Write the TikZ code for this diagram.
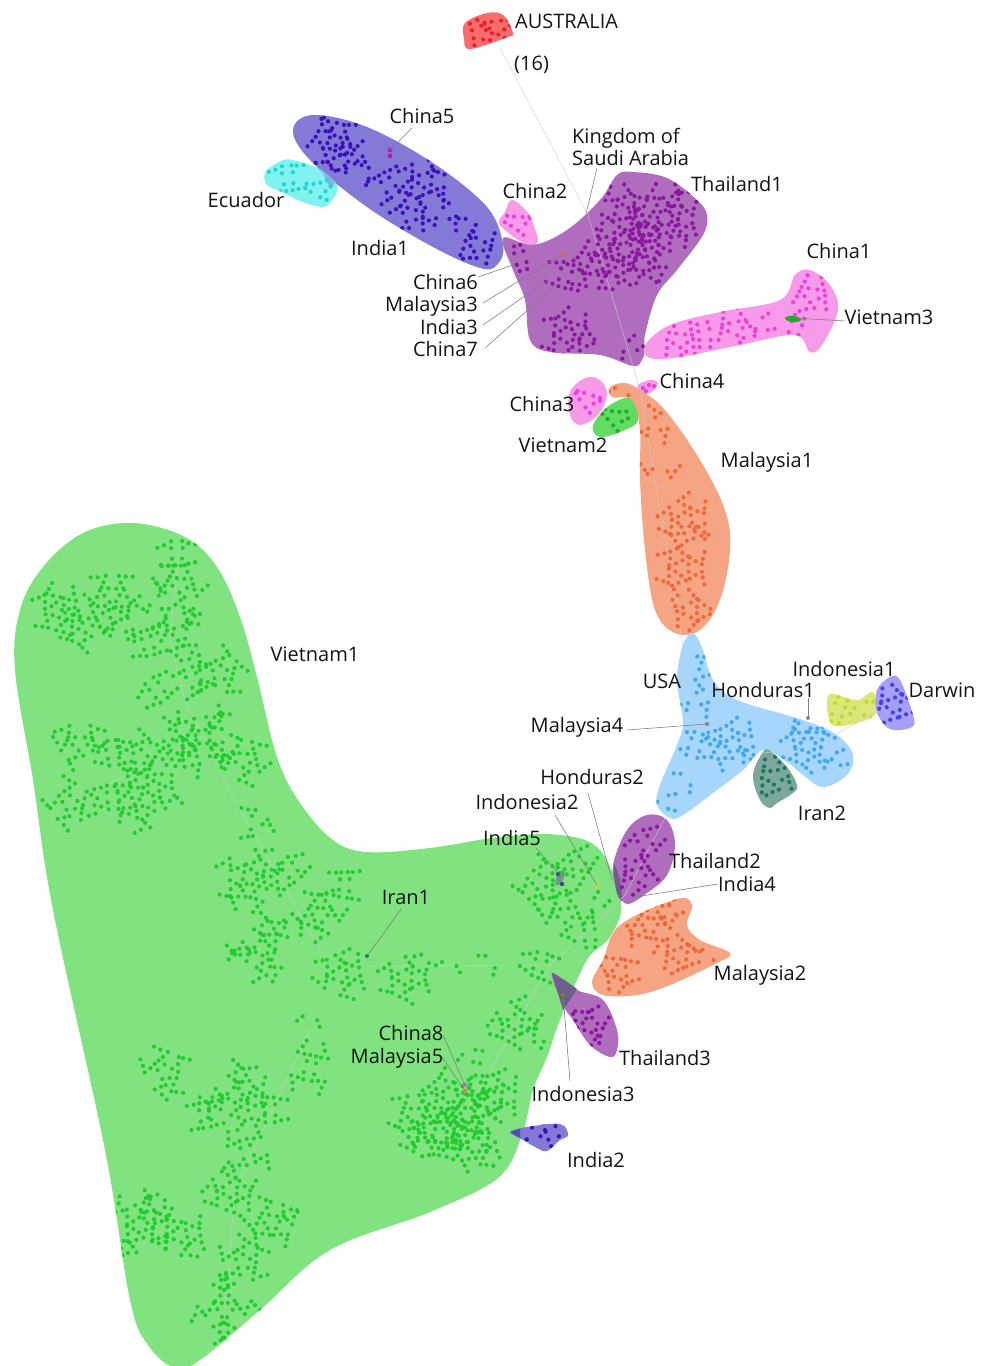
\documentclass[tikz,border=0pt]{standalone}
\usepackage{fontspec}
\setmainfont{Open Sans}
\definecolor{bgGreen}{HTML}{80E380}\definecolor{dGreen}{HTML}{22CC30}
\definecolor{bgRed}{HTML}{F96C6C}\definecolor{dRed}{HTML}{E8202C}
\definecolor{bgInd}{HTML}{8379D6}\definecolor{dInd}{HTML}{3A12B8}
\definecolor{bgCy}{HTML}{80F3F0}\definecolor{dCy}{HTML}{22D5CF}
\definecolor{bgMag}{HTML}{F79AEA}\definecolor{dMag}{HTML}{EE3FD8}
\definecolor{bgPur}{HTML}{B06DBD}\definecolor{dPur}{HTML}{8A189E}
\definecolor{bgOr}{HTML}{F5A583}\definecolor{dOr}{HTML}{F0683A}
\definecolor{bgBl}{HTML}{A6D6FB}\definecolor{dBl}{HTML}{3FA8EE}
\definecolor{bgTe}{HTML}{7DA79B}\definecolor{dTe}{HTML}{157A62}
\definecolor{bgYe}{HTML}{DCE77A}\definecolor{dYe}{HTML}{C5D82E}
\definecolor{bgDa}{HTML}{A3A0F5}\definecolor{dDa}{HTML}{4A3FE0}
\definecolor{ovl}{HTML}{6C5F8C}
\definecolor{bgVtw}{HTML}{62DB62}
\tikzset{
  blob/.style={smooth cycle,tension=.6},
  leader/.style={draw=black!50,line width=.6pt},
  faint/.style={draw=black!20,line width=.4pt},
  lab/.style={font=\fontsize{20}{22}\selectfont,text=black!92,inner sep=0pt,text height=18pt,text depth=4pt},
}
\newcommand\doshape[1]{\fill[\tmpcol] plot[blob] coordinates {#1};}
\newcommand\shape[2]{\def\tmpcol{#1}\expandafter\doshape\expandafter{#2}}
\newcommand\doclip[1]{\clip plot[blob] coordinates {#1};}
\newcommand\clipto[1]{\expandafter\doclip\expandafter{#1}}
% hull outlines
\def\hGreen{(133,523)(185,537)(217,567)(240,617)(257,677)(277,757)(300,803)(333,840)(367,852)(430,848)(500,837)(560,835)(600,850)(621,903)(610,937)(587,960)(560,1020)(547,1057)(533,1090)(522,1135)(498,1178)(430,1212)(330,1250)(260,1310)(200,1360)(175,1368)(148,1345)(130,1300)(105,1150)(53,910)(33,780)(15,670)(20,610)(43,567)(83,533)}
\def\hAus{(465,23)(487,13)(503,15)(513,33)(508,37)(470,49)(464,38)}
\def\hEcu{(265,173)(277,163)(293,160)(333,175)(337,190)(332,200)(323,207)(300,201)(282,192)(267,185)}
\def\hIndO{(293,130)(313,115)(367,127)(433,163)(487,207)(503,245)(497,265)(480,268)(433,247)(367,207)(310,160)}
\def\hChT{(512,200)(528,213)(537,235)(537,243)(528,246)(500,225)(505,212)}
\def\hThO{(617,175)(633,172)(667,178)(697,200)(707,215)(703,235)(677,270)(657,295)(645,335)(645,350)(642,360)(633,366)(600,355)(550,352)(530,340)(525,300)(513,270)(503,238)(533,245)(567,230)(600,200)}
\def\hChO{(645,345)(670,325)(720,312)(780,300)(795,275)(810,270)(830,285)(838,310)(822,345)(810,352)(795,335)(740,345)(680,357)(650,358)}
\def\hChH{(570,392)(585,378)(600,380)(607,395)(598,415)(580,425)(570,415)}
\def\hViS{(593,425)(610,405)(632,398)(638,420)(625,430)(600,437)}
\def\hChV{(638,385)(650,380)(658,383)(652,392)(640,394)}
\def\hMaO{(610,387)(625,383)(640,390)(665,410)(700,460)(725,510)(730,550)(720,600)(700,630)(675,633)(655,610)(645,550)(640,480)(640,430)(632,400)(612,397)}
\def\hUSA{(693,633)(703,650)(713,680)(737,700)(803,720)(837,735)(853,755)(847,775)(823,787)(803,775)(787,762)(763,750)(743,770)(717,790)(683,815)(670,818)(657,805)(660,785)(677,745)(683,722)(677,680)(683,645)}
\def\hIrT{(763,752)(770,751)(787,767)(797,785)(793,793)(777,803)(770,808)(760,800)(753,775)}
\def\hIdO{(827,700)(833,694)(857,700)(873,692)(875,715)(843,726)(830,722)}
\def\hDar{(877,690)(890,677)(900,680)(913,715)(912,727)(890,729)(877,712)}
\def\hThT{(647,815)(667,820)(675,845)(667,875)(647,893)(627,904)(617,890)(613,865)(627,830)}
\def\hMaT{(677,899)(692,905)(687,925)(700,940)(730,953)(717,963)(670,985)(637,995)(603,995)(592,982)(603,960)(620,925)}
\def\hThH{(552,973)(577,990)(603,1000)(617,1030)(617,1050)(610,1057)(590,1045)(573,1020)(563,1005)}
\def\hInS{(510,1132)(527,1127)(560,1124)(568,1135)(560,1140)(547,1151)(537,1148)(523,1140)}
% radial dendrite of dots: x, y, radius, branches
\newcommand\dd[4]{%
  \pgfmathsetmacro\oa{rnd*60}%
  \pgfmathtruncatemacro\kk{max(1,round(#3/7.5))}%
  \foreach \b in {1,...,#4}{%
    \pgfmathsetmacro\aa{\oa+\b*360/#4+rnd*14}%
    \pgfmathsetmacro\bd{rnd*16-8}%
    \foreach \k in {1,...,\kk}{%
      \pgfmathsetmacro\ang{\aa+\k*\bd}%
      \pgfmathsetmacro\sg{mod(\k+\b,2)*2-1}%
      \pgfmathsetmacro\pos{\k*7.6}%
      \fill ({#1+\pos*cos(\ang)},{#2+\pos*sin(\ang)}) circle (2.1pt)
            ({#1+\pos*cos(\ang)+7*cos(\ang+\sg*52)},{#2+\pos*sin(\ang)+7*sin(\ang+\sg*52)}) circle (2.1pt);
    }%
  }%
}
\begin{document}
\begin{tikzpicture}[x=1pt,y=-1pt]
\useasboundingbox (0,0) rectangle (986,1366);
\pgfmathsetseed{4242}
% ---- hulls
\shape{bgGreen}{\hGreen}
\shape{bgRed}{\hAus}
\shape{bgCy}{\hEcu}
\shape{bgInd}{\hIndO}
\shape{bgMag}{\hChT}
\shape{bgPur}{\hThO}
\shape{bgMag}{\hChO}
\shape{bgMag}{\hChH}
\shape{bgVtw}{\hViS}
\shape{bgMag}{\hChV}
\shape{bgOr}{\hMaO}
\shape{bgBl}{\hUSA}
\shape{bgTe}{\hIrT}
\shape{bgYe}{\hIdO}
\shape{bgDa}{\hDar}
\shape{bgPur}{\hThT}
\shape{bgOr}{\hMaT}
\shape{bgPur}{\hThH}
\shape{bgInd}{\hInS}
% ---- overlaps
\fill[ovl] (552,973) -- (566,981) -- (577,989) -- (570,1000) -- (563,1010) -- cycle;
\fill[ovl] plot[blob] coordinates {(614,865)(620,880)(622,901)(616,890)};
\fill[dInd!70!bgGreen] (510,1132) -- (520,1129) -- (520,1138) -- cycle;
\fill[ovl!60!bgGreen,rotate around={-25:(560,878)}] (560,878) ellipse (3.5 and 8);
\fill[bgCy!50!bgInd] (320,168) -- (336,182) -- (330,188) -- cycle;
% ---- faint tree edges
\coordinate (sp0) at (500,48); \coordinate (sp1) at (588,215);
\coordinate (sp2) at (640,390); \coordinate (sp3) at (682,640);
\coordinate (sp4) at (695,760); \coordinate (sp5) at (625,895);
\coordinate (sp6) at (550,965); \coordinate (sp7) at (368,966);
\draw[faint] (sp0) -- (sp1) -- (sp2) -- (sp3) -- (sp4) -- (sp5) -- (sp6) -- (sp7);
\draw[faint] (sp4) -- (810,748) -- (890,705);
\draw[faint] (sp6) -- (468,1110);
\draw[faint] (320,950) -- (240,810) -- (185,700) -- (170,640) -- (178,555);
\draw[faint] (187,745) -- (70,803);
\draw[faint] (310,1030) -- (235,1190) -- (225,1310);
% ---- dots
\begin{scope}[fill=dGreen]
\clipto{\hGreen}
\dd{58}{610}{22}{6}\dd{85}{625}{20}{5}\dd{112}{595}{24}{6}\dd{177}{553}{18}{4}\dd{180}{585}{22}{5}\dd{157}{603}{14}{3}\dd{180}{633}{22}{6}\dd{148}{643}{15}{4}\dd{120}{627}{13}{3}
\dd{157}{690}{15}{4}\dd{193}{680}{16}{4}\dd{220}{673}{20}{5}
\dd{203}{737}{30}{8}\dd{170}{737}{14}{3}\dd{243}{760}{25}{5}\dd{187}{760}{13}{3}
\dd{80}{743}{25}{5}\dd{113}{753}{16}{4}\dd{140}{757}{20}{5}
\dd{70}{803}{26}{5}\dd{113}{797}{18}{4}\dd{147}{800}{28}{7}
\dd{255}{823}{18}{3}\dd{250}{877}{30}{7}\dd{290}{870}{14}{4}
\dd{320}{915}{24}{6}\dd{345}{885}{18}{4}\dd{262}{948}{30}{7}\dd{340}{975}{24}{6}\dd{405}{977}{22}{6}\dd{310}{1018}{6}{2}\dd{310}{1068}{22}{4}
\dd{165}{1072}{26}{5}\dd{235}{1095}{30}{7}\dd{205}{1115}{18}{4}\dd{270}{1110}{18}{4}\dd{247}{1152}{22}{4}
\dd{140}{1225}{30}{7}\dd{180}{1235}{24}{6}\dd{230}{1190}{24}{6}\dd{272}{1222}{25}{6}\dd{243}{1262}{24}{5}\dd{225}{1310}{32}{6}
\dd{415}{1115}{22}{6}\dd{450}{1095}{24}{7}\dd{440}{1135}{24}{7}\dd{468}{1115}{28}{8}\dd{475}{1145}{24}{7}\dd{495}{1095}{24}{6}\dd{420}{1140}{14}{3}
\dd{470}{1055}{10}{3}\dd{515}{1022}{24}{6}\dd{540}{1035}{10}{2}\dd{540}{965}{12}{4}\dd{490}{962}{6}{2}\dd{449}{965}{4}{2}
\dd{540}{882}{20}{5}\dd{578}{864}{16}{5}\dd{565}{915}{20}{5}\dd{597}{905}{10}{3}\dd{590}{935}{10}{4}
\end{scope}
\begin{scope}[fill=dRed]\clipto{\hAus}\dd{479}{33}{8}{5}\dd{497}{27}{8}{5}\end{scope}
\begin{scope}[fill=dCy]\clipto{\hEcu}\dd{288}{178}{14}{4}\dd{318}{190}{9}{5}\end{scope}
\begin{scope}[fill=dInd]\clipto{\hIndO}
\dd{335}{143}{26}{8}\dd{350}{160}{14}{3}\dd{425}{180}{22}{6}\dd{388}{185}{16}{4}\dd{365}{172}{10}{2}\dd{410}{215}{18}{5}\dd{443}{215}{12}{3}\dd{470}{225}{8}{2}\dd{478}{245}{12}{5}
\end{scope}
\begin{scope}[fill=dMag]\clipto{\hChT}\dd{518}{223}{8}{5}\end{scope}
\begin{scope}[fill=dMag]\clipto{\hChO}\dd{680}{340}{13}{5}\dd{705}{335}{9}{4}\dd{735}{328}{14}{5}\dd{762}{325}{8}{3}\dd{795}{328}{10}{4}\dd{812}{295}{14}{5}\end{scope}
\begin{scope}[fill=dMag]\clipto{\hChH}\dd{587}{400}{8}{5}\end{scope}
\begin{scope}[fill=dMag]\fill (643,388) circle (2.1pt) (649,385) circle (2.1pt) (654,386) circle (2.1pt) (646,391) circle (2.1pt);\end{scope}
\begin{scope}[fill=dPur]\clipto{\hThO}
\dd{665}{218}{28}{9}\dd{622}{212}{26}{7}\dd{625}{250}{28}{8}\dd{650}{255}{20}{6}\dd{595}{268}{22}{6}\dd{520}{258}{10}{4}\dd{565}{275}{14}{4}\dd{567}{335}{20}{7}\dd{630}{348}{9}{3}
\end{scope}
\begin{scope}[fill=dPur]\clipto{\hThT}\dd{645}{843}{16}{4}\dd{638}{875}{14}{5}\end{scope}
\begin{scope}[fill=dPur]\clipto{\hThH}\dd{590}{1025}{18}{7}\end{scope}
\begin{scope}[fill=dGreen!85!black]\clipto{\hViS}\dd{615}{418}{7}{5}\end{scope}
\begin{scope}[fill=dOr]\clipto{\hMaO}
\dd{622}{391}{4}{2}\dd{655}{425}{14}{3}\dd{660}{470}{12}{2}\dd{685}{520}{26}{7}\dd{682}{568}{22}{6}\dd{690}{610}{15}{6}
\end{scope}
\begin{scope}[fill=dOr]\clipto{\hMaT}
\dd{650}{925}{20}{6}\dd{670}{912}{8}{3}\dd{620}{972}{16}{6}\dd{680}{955}{16}{6}\dd{708}{955}{7}{2}
\end{scope}
\begin{scope}[fill=dBl]\clipto{\hUSA}
\dd{693}{650}{13}{1}\dd{697}{672}{8}{1}\dd{695}{700}{12}{3}\dd{695}{745}{18}{4}\dd{733}{745}{26}{7}\dd{808}{745}{24}{7}\dd{806}{722}{10}{3}\dd{835}{760}{10}{3}\dd{665}{802}{9}{3}\dd{685}{780}{8}{2}
\end{scope}
\begin{scope}[fill=dTe]\clipto{\hIrT}\dd{775}{777}{14}{5}\end{scope}
\begin{scope}[fill=dYe]\clipto{\hIdO}\dd{838}{710}{7}{4}\dd{862}{708}{6}{3}\end{scope}
\begin{scope}[fill=dDa]\clipto{\hDar}\dd{894}{705}{14}{6}\end{scope}
\begin{scope}[fill=dInd]\clipto{\hInS}\dd{533}{1135}{6}{3}\dd{552}{1133}{7}{4}\end{scope}
% ---- marked points
\coordinate (pChinaF) at (390,150);\coordinate (pKSA) at (586,214);
\coordinate (pChinaS) at (513,265);\coordinate (pMalT) at (563,254);
\coordinate (pIndT) at (548,280);\coordinate (pChinaN) at (556,285);
\coordinate (pVietT) at (795,318);\coordinate (pMalF) at (707,724);
\coordinate (pHonO) at (808,718);\coordinate (pHonT) at (612,880);
\coordinate (pIdoT) at (597,885);\coordinate (pIndF) at (560,875);
\coordinate (pIndV) at (635,897);\coordinate (pIran) at (367,956);
\coordinate (pChinaE) at (465,1085);\coordinate (pMalV) at (465,1091);
\coordinate (pIdoH) at (563,995);
\fill[dPur!70!dMag] (pChinaF) circle (2.4pt) (390,156) circle (2.4pt);
\fill[dOr] (pMalT) circle (2.2pt);
\fill[dGreen!85!black,rotate around={-5:(793,319)}] (793,319) ellipse (8 and 3);
\fill[black!45] (pMalF) circle (2.2pt) (pHonO) circle (2pt);
\fill[dTe] (pIran) circle (2pt);
\fill[dInd!70!dGreen] (558,874) circle (2.2pt) (562,884) circle (2.2pt);
\fill[dYe] (pIdoT) circle (2.4pt);
\fill[dPur!60!white] (pChinaE) circle (2.4pt);
\fill[dOr!70!dYe] (pMalV) circle (2.4pt);
\fill[dYe!60!black] (pIdoH) circle (2.2pt);
% ---- labels
\node[lab,anchor=west] (lAus) at (515,21) {AUSTRALIA};
\node[lab,anchor=west] (lSix) at (514,63) {(16)};
\node[lab] (lChinaF) at (422,116) {China5};
\node[lab,anchor=west,align=left,text height=,text depth=] (lKSA) at (572,147) {Kingdom of\\Saudi Arabia};
\node[lab] (lThaiO) at (737,184) {Thailand1};
\node[lab] (lChinaT) at (535,191) {China2};
\node[lab] (lEcu) at (246,200) {Ecuador};
\node[lab] (lIndO) at (380,248) {India1};
\node[lab] (lChinaO) at (839,251) {China1};
\node[lab] (lVietT) at (889,317) {Vietnam3};
\node[lab,anchor=east] (lChinaS) at (478,282) {China6};
\node[lab,anchor=east] (lMalT) at (478,304) {Malaysia3};
\node[lab,anchor=east] (lIndT) at (478,327) {India3};
\node[lab,anchor=east] (lChinaN) at (478,349) {China7};
\node[lab] (lChinaV) at (692,381) {China4};
\node[lab] (lChinaH) at (542,404) {China3};
\node[lab] (lVietS) at (563,445) {Vietnam2};
\node[lab] (lMalO) at (767,460) {Malaysia1};
\node[lab] (lVietO) at (315,654) {Vietnam1};
\node[lab] (lIdoO) at (844,669) {Indonesia1};
\node[lab] (lDar) at (942,690) {Darwin};
\node[lab] (lUSA) at (662,681) {USA};
\node[lab] (lHonO) at (763,690) {Honduras1};
\node[lab] (lMalF) at (577,725) {Malaysia4};
\node[lab] (lHonT) at (592,777) {Honduras2};
\node[lab] (lIdoT) at (527,802) {Indonesia2};
\node[lab] (lIndF) at (512,838) {India5};
\node[lab] (lThaiT) at (715,861) {Thailand2};
\node[lab] (lIndV) at (747,884) {India4};
\node[lab] (lIranT) at (822,813) {Iran2};
\node[lab] (lIranO) at (406,897) {Iran1};
\node[lab] (lMalS) at (760,973) {Malaysia2};
\node[lab] (lChinaE) at (411,1033) {China8};
\node[lab] (lMalV) at (397,1056) {Malaysia5};
\node[lab] (lThaiH) at (665,1058) {Thailand3};
\node[lab] (lIdoH) at (583,1094) {Indonesia3};
\node[lab] (lIndS) at (596,1160) {India2};
% ---- leaders
\coordinate (qChinaF) at (412,128);\coordinate (qKSA) at (597,168);
\coordinate (qChinaS) at (478,277);\coordinate (qMalT) at (483,303);
\coordinate (qIndT) at (483,325);\coordinate (qChinaN) at (485,348);
\coordinate (qVietT) at (845,321);\coordinate (qMalF) at (627,730);
\coordinate (qHonO) at (808,698);\coordinate (qHonT) at (588,793);
\coordinate (qIdoT) at (555,815);\coordinate (qIndF) at (536,848);
\coordinate (qIndV) at (718,884);\coordinate (qIran) at (402,908);
\coordinate (qChinaE) at (443,1035);\coordinate (qMalV) at (442,1057);
\coordinate (qIdoH) at (570,1081);
\foreach \s/\e in {qChinaF/pChinaF,qKSA/pKSA,qChinaS/pChinaS,qMalT/pMalT,qIndT/pIndT,qChinaN/pChinaN,qVietT/pVietT,qMalF/pMalF,qHonO/pHonO,qHonT/pHonT,qIdoT/pIdoT,qIndF/pIndF,qIndV/pIndV,qIran/pIran,qChinaE/pChinaE,qMalV/pMalV,qIdoH/pIdoH}
  \draw[leader] (\s) -- (\e);
\end{tikzpicture}
\end{document}
